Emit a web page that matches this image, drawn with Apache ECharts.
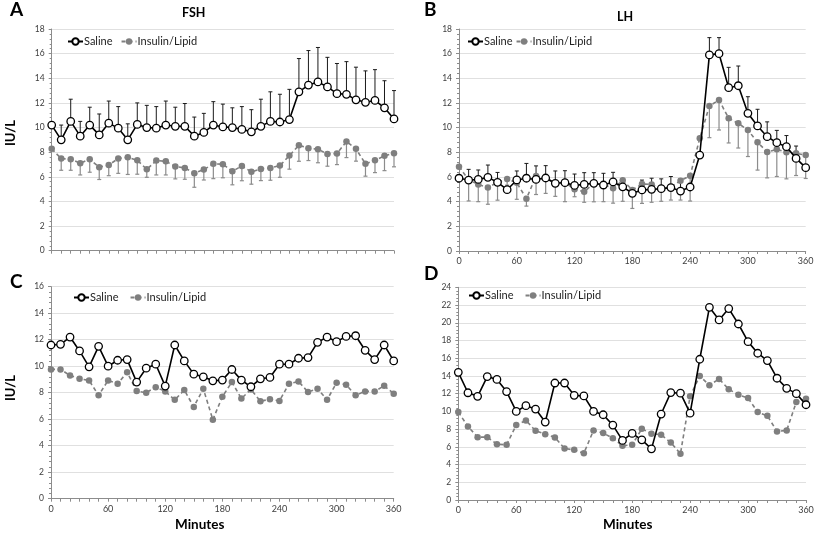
<!DOCTYPE html>
<html><head><meta charset="utf-8">
<script src="https://cdn.jsdelivr.net/npm/echarts@6/dist/echarts.min.js"></script>
<style>html,body{margin:0;padding:0;background:#fff}#c{width:818px;height:534px}</style>
</head><body><div id="c"></div>
<script>
// ---- data ----
const minutes = [0,10,20,30,40,50,60,70,80,90,100,110,120,130,140,150,160,170,180,190,200,210,220,230,240,250,260,270,280,290,300,310,320,330,340,350,360];
const xTickLabels = [0,60,120,180,240,300,360];

// Panel A: FSH (mean, upper SD for saline, lower SD for insulin/lipid)
const fshSaline = [10.2,9.0,10.5,9.3,10.2,9.4,10.35,9.95,9.0,10.25,10.0,9.95,10.2,10.1,10.1,9.3,9.6,10.2,10.05,10.0,9.85,9.65,10.1,10.5,10.45,10.65,12.9,13.45,13.7,13.3,12.75,12.7,12.25,12.05,12.2,11.6,10.7];
const fshSalineSD = [0,1.2,1.8,1.2,1.45,1.7,1.8,1.75,1.3,1.75,1.8,1.75,1.95,1.55,1.85,1.55,1.55,1.9,1.85,1.6,1.85,1.8,2.2,2.4,2.25,2.45,2.7,2.8,2.8,2.4,2.45,2.65,2.65,2.55,2.5,2.2,2.3];
const fshInsulin = [8.27,7.48,7.43,7.1,7.43,6.78,6.96,7.48,7.59,7.34,6.61,7.32,7.26,6.83,6.72,6.29,6.59,7.05,7.02,6.45,6.88,6.4,6.64,6.72,6.91,7.72,8.56,8.32,8.24,7.86,7.89,8.86,8.27,7.05,7.34,7.7,7.91];
const fshInsulinSD = [0,0.95,0.9,0.95,1.06,1.0,0.87,1.2,1.4,1.13,0.65,1.17,1.11,1.0,0.92,1.14,0.85,1.2,1.1,1.1,1.2,1.0,0.95,1.0,0.95,1.1,1.3,1.0,1.1,1.0,0.9,1.3,1.0,1.0,1.0,1.2,1.1];

// Panel B: LH
const lhSaline = [5.9,5.75,5.8,5.97,5.57,4.97,5.76,5.9,5.8,5.92,5.49,5.54,5.32,5.4,5.49,5.35,5.6,5.2,4.68,4.95,5.0,5.05,5.14,4.86,5.19,7.78,15.9,16.0,13.24,13.4,11.16,10.14,9.27,8.78,8.46,7.51,6.76];
const lhSalineSD = [0,0.87,0.77,1.0,0.8,0,0.73,1.2,1.1,1.0,1.0,0.97,0.92,0.95,0.86,0.95,0.78,0,0,0.8,0.9,0.8,0.9,1.0,0,0,1.4,1.3,1.65,1.6,1.35,1.35,1.2,1.0,0.9,1.0,0];
const lhInsulin = [6.84,5.76,5.4,5.14,5.57,5.84,5.54,4.24,6.08,5.97,5.43,5.57,5.0,4.81,5.49,5.4,5.08,5.73,4.95,5.43,5.4,5.03,5.2,5.7,6.1,9.14,11.76,12.24,10.76,10.35,9.81,8.81,8.03,8.24,8.0,7.92,7.78];
const lhInsulinSD = [0,1.7,1.4,1.35,1.45,0.5,1.35,0.6,1.5,1.3,1.0,1.57,0.6,0.86,1.5,1.4,1.2,1.7,1.5,1.57,1.45,1.0,1.07,1.57,2.05,0,2.57,2.43,2.0,2.0,2.15,2.25,2.1,2.2,2.15,1.8,1.9];

// Panel C: FSH individual
const cSaline = [11.6,11.65,12.2,11.15,9.95,11.5,10.0,10.45,10.5,8.8,9.85,10.15,8.5,11.6,10.4,9.4,9.2,8.9,8.95,9.75,8.95,8.45,9.05,9.15,10.15,10.15,10.6,10.65,11.8,12.2,11.85,12.25,12.3,11.2,10.5,11.6,10.4];
const cInsulin = [9.76,9.76,9.3,9.05,8.93,7.8,8.93,8.68,9.54,8.12,8.0,8.42,8.1,7.46,8.2,6.93,8.3,5.96,7.7,8.8,7.56,8.25,7.36,7.5,7.38,8.68,8.85,8.05,8.3,7.46,8.75,8.6,7.8,8.1,8.1,8.52,7.93];

// Panel D: LH individual
const dSaline = [14.41,12.1,11.7,13.93,13.6,12.23,10.0,10.64,10.26,8.79,13.2,13.2,11.81,11.74,10.0,9.62,8.45,6.72,7.51,6.79,5.77,9.7,12.12,12.05,9.8,15.88,21.74,20.32,21.6,19.86,17.87,16.56,15.73,13.74,12.6,12.0,10.75];
const dInsulin = [9.92,8.3,7.09,7.09,6.3,6.23,8.45,8.98,7.81,7.43,7.06,5.81,5.66,5.28,7.85,7.55,6.98,6.11,6.23,8.04,7.47,7.36,6.49,5.21,11.7,14.0,12.95,13.66,12.5,11.88,11.5,9.92,9.5,7.74,7.85,11.06,11.43];

// ---- chart ----
const FONT = 'Lato';
const pair = (xs, ys) => xs.map((x, i) => [x, ys[i]]);
const triple = (xs, ys, sd) => xs.map((x, i) => [x, ys[i], sd[i]]);

const grids = [
  {left: 51.7, top: 29, width: 342.3, height: 221.7},
  {left: 459, top: 29, width: 346.7, height: 222},
  {left: 51, top: 286.7, width: 342.7, height: 212},
  {left: 458.3, top: 287.3, width: 347.7, height: 212.7}
];
const yMax = [18, 18, 16, 24];
const showXLabels = [false, true, true, true];

const xAxes = grids.map((g, i) => ({
  type: 'value', gridIndex: i, min: 0, max: 360, interval: 10,
  axisLine: {show: true, lineStyle: {color: '#8c8c8c', width: 1}},
  axisTick: {show: true, length: 3, inside: false, lineStyle: {color: '#8c8c8c'}},
  axisLabel: {show: showXLabels[i], fontFamily: FONT, fontSize: 9, color: '#404040', margin: 6,
    formatter: v => xTickLabels.indexOf(v) >= 0 ? String(v) : ''},
  splitLine: {show: false}
}));
const yAxes = grids.map((g, i) => ({
  type: 'value', gridIndex: i, min: 0, max: yMax[i], interval: 2,
  axisLine: {show: true, lineStyle: {color: '#8c8c8c', width: 1}},
  axisTick: {show: true, length: 3, lineStyle: {color: '#8c8c8c'}},
  minorTick: {show: true, splitNumber: 5, length: 2, lineStyle: {color: '#8c8c8c'}},
  axisLabel: {fontFamily: FONT, fontSize: 8.5, color: '#404040', margin: 7},
  splitLine: {show: true, lineStyle: {color: '#e0e0e0', width: 1}}
}));

function errSeries(idx, xs, ys, sd, dir, color, width) {
  return {
    type: 'custom', name: 'err' + idx + dir, xAxisIndex: idx, yAxisIndex: idx, z: 1, silent: true,
    data: triple(xs, ys, sd),
    renderItem: function (params, api) {
      const x = api.value(0), y = api.value(1), s = api.value(2);
      if (!s) return null;
      const p0 = api.coord([x, y]);
      const p1 = api.coord([x, y + dir * s]);
      const st = {stroke: color, lineWidth: width};
      return {type: 'group', children: [
        {type: 'line', shape: {x1: p0[0], y1: p0[1], x2: p1[0], y2: p1[1]}, style: st},
        {type: 'line', shape: {x1: p1[0] - 2, y1: p1[1], x2: p1[0] + 2, y2: p1[1]}, style: st}
      ]};
    }
  };
}
function salineSeries(idx, ys) {
  return {type: 'line', name: 'Saline', xAxisIndex: idx, yAxisIndex: idx, z: 4,
    data: pair(minutes, ys), symbol: 'circle', symbolSize: 7.5, showSymbol: true,
    lineStyle: {color: '#000', width: 1.6},
    itemStyle: {color: '#fff', borderColor: '#000', borderWidth: 1.3}};
}
function insulinSeries(idx, ys) {
  return {type: 'line', name: 'Insulin/Lipid', xAxisIndex: idx, yAxisIndex: idx, z: 3,
    data: pair(minutes, ys), symbol: 'circle', symbolSize: 6.5, showSymbol: true,
    lineStyle: {color: '#7f7f7f', width: 1.6, type: [4, 3]},
    itemStyle: {color: '#7f7f7f', borderColor: '#7f7f7f', borderWidth: 0}};
}

const series = [
  errSeries(0, minutes, fshInsulin, fshInsulinSD, -1, '#8c8c8c', 1.2),
  errSeries(0, minutes, fshSaline, fshSalineSD, 1, '#1a1a1a', 1),
  insulinSeries(0, fshInsulin), salineSeries(0, fshSaline),
  errSeries(1, minutes, lhInsulin, lhInsulinSD, -1, '#8c8c8c', 1.2),
  errSeries(1, minutes, lhSaline, lhSalineSD, 1, '#1a1a1a', 1),
  insulinSeries(1, lhInsulin), salineSeries(1, lhSaline),
  insulinSeries(2, cInsulin), salineSeries(2, cSaline),
  insulinSeries(3, dInsulin), salineSeries(3, dSaline)
];

const legendPos = [
  {left: 62, top: 31, itemGap: 8},
  {left: 462, top: 31, itemGap: 3},
  {left: 68, top: 287, itemGap: 11},
  {left: 463, top: 285, itemGap: 11}
];
const legends = legendPos.map(p => ({
  left: p.left, top: p.top, itemGap: p.itemGap, itemWidth: 15, itemHeight: 8,
  data: ['Saline', 'Insulin/Lipid'],
  textStyle: {fontFamily: FONT, fontSize: 11, color: '#222', padding: [0, 0, 0, -4]},
  selectedMode: false
}));

const txt = (text, left, top, size, extra) => Object.assign({
  type: 'text', left: left, top: top,
  style: {text: text, fontFamily: FONT, fontSize: size, fontWeight: 'bold', fill: '#000'}
}, extra || {});

const graphic = [
  txt('A', 10, 0, 19), txt('B', 424, 0, 19), txt('C', 10, 272, 19), txt('D', 424, 264, 19),
  txt('FSH', 182, 6, 12.5), txt('LH', 617, 10, 12.5),
  txt('Minutes', 175, 518, 13.5), txt('Minutes', 603, 518, 13.5),
  {type: 'text', x: 4, y: 146, rotation: Math.PI / 2,
    style: {text: 'IU/L', fontFamily: FONT, fontSize: 13, fontWeight: 'bold', fill: '#000'}},
  {type: 'text', x: 4, y: 401, rotation: Math.PI / 2,
    style: {text: 'IU/L', fontFamily: FONT, fontSize: 13, fontWeight: 'bold', fill: '#000'}}
];

const chart = echarts.init(document.getElementById('c'), null, {renderer: 'canvas'});
chart.setOption({
  backgroundColor: '#fff',
  animation: false,
  grid: grids,
  xAxis: xAxes,
  yAxis: yAxes,
  legend: legends,
  series: series,
  graphic: graphic
});
</script></body></html>
